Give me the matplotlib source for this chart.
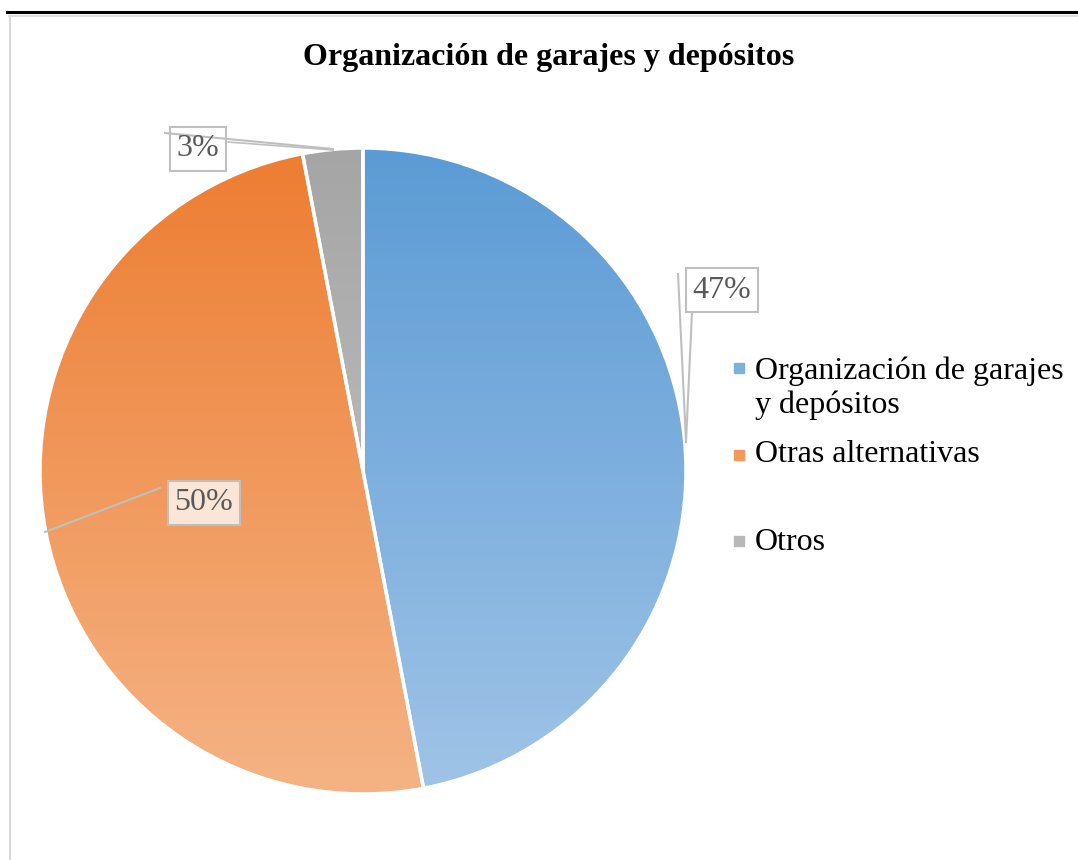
import matplotlib
matplotlib.use('Agg')
import matplotlib.pyplot as plt
import numpy as np
from matplotlib.colors import to_rgb
from matplotlib.lines import Line2D

plt.rcParams['font.family'] = ['Liberation Serif', 'DejaVu Serif']

title = 'Organización de garajes y depósitos'
categories = ['Organización de garajes\ny depósitos', 'Otras alternativas', 'Otros']
values = [47, 50, 3]
labels = ['47%', '50%', '3%']

# gradient top / bottom colours per slice
top_colors = ['#5B9BD5', '#ED7D31', '#A5A5A5']
bottom_colors = ['#A0C4E7', '#F5B385', '#CBCBCB']

W, H = 1078, 860
fig = plt.figure(figsize=(W / 100, H / 100), dpi=100)
ax = fig.add_axes([0, 0, 1, 1])


def py(y):
    # pixel row from top -> data y
    return H - y


cx, cy, r = 363, py(471), 323
wedges, _ = ax.pie(values, startangle=90, counterclock=False, center=(cx, cy),
                   radius=r, frame=True,
                   wedgeprops=dict(edgecolor='white', linewidth=2.5, facecolor='none'))

for w, c0, c1 in zip(wedges, top_colors, bottom_colors):
    a = np.array(to_rgb(c0))
    b = np.array(to_rgb(c1))
    t = np.linspace(0, 1, 256)[:, None]
    grad = (a * (1 - t) + b * t)[:, None, :]
    im = ax.imshow(grad, extent=(cx - r, cx + r, cy - r, cy + r), origin='upper',
                   aspect='auto', zorder=1, interpolation='bilinear')
    im.set_clip_path(w)
    w.set_zorder(2)

# leader lines
lc = '#BFBFBF'
ax.plot([165, 333], [py(133), py(149)], color=lc, lw=1.5, zorder=4)
ax.plot([228, 333], [py(142), py(150)], color=lc, lw=1.2, zorder=4)
ax.plot([678, 686], [py(274), py(442)], color=lc, lw=1.5, zorder=4)
ax.plot([692, 686], [py(312), py(442)], color=lc, lw=1.5, zorder=4)
ax.plot([160, 45], [py(488), py(532)], color=lc, lw=1.5, zorder=4)

# data labels
label_pos = [(722, 290), (204, 503), (198, 149)]
label_fc = ['white', '#FBE5D6', 'none']
for txt, (x, y), fc in zip(labels, label_pos, label_fc):
    ax.text(x, py(y), txt, ha='center', va='center', fontsize=23, color='#595959',
            zorder=5,
            bbox=dict(boxstyle='square,pad=0.22', fc=fc, ec='#BFBFBF', lw=1.5))

# title
ax.text(549, py(57), title, ha='center', va='center', fontsize=23,
        fontweight='bold', color='black')

# legend (y = baseline of last text line, marker centre)
leg_y = [413, 462, 550]
mark_y = [368, 455, 541]
for cat, y, my, c0, c1 in zip(categories, leg_y, mark_y, top_colors, bottom_colors):
    mid = (np.array(to_rgb(c0)) + np.array(to_rgb(c1))) / 2
    ax.plot([739], [py(my)], marker='s', ms=7, color=mid, mec=mid, zorder=5)
    ax.text(755, py(y), cat, ha='left', va='baseline', fontsize=23,
            color='black', linespacing=1.2)

ax.set_xlim(0, W)
ax.set_ylim(0, H)
ax.axis('off')

# page border lines
fig.add_artist(Line2D([7 / W, 1], [1 - 12 / H, 1 - 12 / H], color='black', lw=2.2))
fig.add_artist(Line2D([9 / W, 1], [1 - 16 / H, 1 - 16 / H], color='#D9D9D9', lw=1.2))
fig.add_artist(Line2D([10 / W, 10 / W], [0, 1 - 16 / H], color='#D9D9D9', lw=1.5))

fig.savefig('out.png', dpi=100)
